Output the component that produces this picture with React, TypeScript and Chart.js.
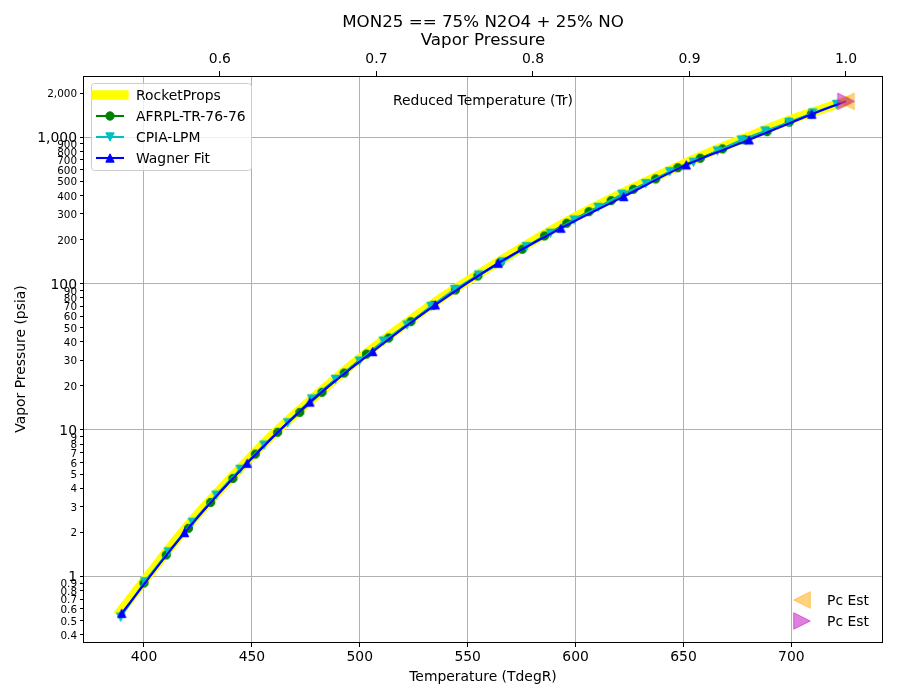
import React, { useEffect, useRef } from 'react';
import { Chart, registerables } from 'chart.js';

Chart.register(...registerables);

const FONT = 'DejaVu Sans';

const TITLE_LINES = ['MON25 == 75% N2O4 + 25% NO', 'Vapor Pressure'];
const X_LABEL = 'Temperature (TdegR)';
const Y_LABEL = 'Vapor Pressure (psia)';
const TR_LABEL = 'Reduced Temperature (Tr)';
const LEGEND_MAIN = ['RocketProps', 'AFRPL-TR-76-76', 'CPIA-LPM', 'Wagner Fit'];
const LEGEND_PC = ['Pc Est', 'Pc Est'];

// critical point (degR, psia)
const TC = 725.3;
const PC = 1760;

const X_MIN = 372.2;
const X_MAX = 742.0;
const Y_MIN = 0.356;
const Y_MAX = 2620;

const X_TICKS = [400, 450, 500, 550, 600, 650, 700];
const TR_TICKS = [0.6, 0.7, 0.8, 0.9, 1.0];
const Y_TICKS = [
  0.4, 0.5, 0.6, 0.7, 0.8, 0.9,
  1, 2, 3, 4, 5, 6, 7, 8, 9,
  10, 20, 30, 40, 50, 60, 70, 80, 90,
  100, 200, 300, 400, 500, 600, 700, 800, 900,
  1000, 2000,
];
const Y_MAJOR = [1, 10, 100, 1000];

// RocketProps curve
const ROCKET_T = [389.0, 400, 420, 440, 460, 480, 500, 520, 540, 560, 580, 600, 620, 640, 660, 680, 700, 720, 725.3];
const ROCKET_P = [0.575, 0.93, 2.2, 4.65, 9.4, 17.4, 30.9, 51.8, 84, 129, 195, 287, 405, 562, 766, 1010, 1325, 1660, 1760];

// AFRPL-TR-76-76
const AFRPL_T = [
  400.0, 410.3, 420.6, 430.9, 441.2, 451.6, 461.9, 472.2, 482.5, 492.8,
  503.1, 513.4, 523.7, 534.0, 544.3, 554.7, 565.0, 575.3, 585.6, 595.9,
  606.2, 616.5, 626.8, 637.1, 647.4, 657.8, 668.1, 678.4, 688.7, 699.0, 709.3,
];
const AFRPL_P = [
  0.90, 1.40, 2.13, 3.20, 4.67, 6.85, 9.64, 13.2, 18.1, 24.5,
  33.0, 42.5, 55.0, 71.0, 90.5, 112.8, 139.4, 171.7, 211.7, 258.5,
  310, 369, 441, 519, 619, 719, 832, 960, 1092, 1267, 1443,
];

// CPIA-LPM
const CPIA_T = [
  389.2, 400.3, 411.3, 422.4, 433.4, 444.5, 455.6, 466.6, 477.7, 488.7,
  499.8, 510.9, 521.9, 533.0, 544.0, 555.1, 566.2, 577.2, 588.3, 599.3,
  610.4, 621.5, 632.5, 643.6, 654.6, 665.7, 676.8, 687.8, 698.9, 709.9, 721.0,
];
const CPIA_P = [
  0.527, 0.918, 1.47, 2.34, 3.59, 5.39, 7.89, 11.2, 16.3, 22.2,
  29.6, 40.5, 52.1, 70.0, 91.4, 114.5, 141, 179, 221, 272,
  332, 408, 482, 582, 675, 806, 958, 1105, 1262, 1466, 1676,
];

// Wagner Fit (markers; last point is the critical point, no marker)
const WAGNER_T = [389.7, 418.8, 447.8, 476.9, 506.0, 535.0, 564.1, 593.2, 622.3, 651.3, 680.4, 709.5, 725.3];
const WAGNER_P = [0.559, 1.99, 5.92, 15.5, 34.3, 71.5, 137.7, 239, 393, 647, 959, 1436, 1760];

const YELLOW = '#ffff00';
const GREEN = '#008000';
const CYAN = '#00bfbf';
const BLUE = '#0000ff';
const ORANGE_A = 'rgba(255,165,0,0.5)';
const MAGENTA_A = 'rgba(191,0,191,0.5)';
const GRID = '#b0b0b0';

const isMajor = (v: number) => Y_MAJOR.some((m) => Math.abs(m - v) < 1e-9);

function shapePath(ctx: CanvasRenderingContext2D, kind: string, x: number, y: number, r: number) {
  ctx.beginPath();
  if (kind === 'circle') {
    ctx.arc(x, y, r, 0, Math.PI * 2);
  } else if (kind === 'up') {
    ctx.moveTo(x, y - r);
    ctx.lineTo(x - r, y + r);
    ctx.lineTo(x + r, y + r);
  } else if (kind === 'down') {
    ctx.moveTo(x, y + r);
    ctx.lineTo(x - r, y - r);
    ctx.lineTo(x + r, y - r);
  } else if (kind === 'left') {
    ctx.moveTo(x - r, y);
    ctx.lineTo(x + r, y - r);
    ctx.lineTo(x + r, y + r);
  } else if (kind === 'right') {
    ctx.moveTo(x + r, y);
    ctx.lineTo(x - r, y - r);
    ctx.lineTo(x - r, y + r);
  }
  ctx.closePath();
}

function drawMarker(ctx: CanvasRenderingContext2D, kind: string, x: number, y: number, r: number, color: string) {
  shapePath(ctx, kind, x, y, r);
  ctx.fillStyle = color;
  ctx.fill();
  ctx.lineWidth = 1;
  ctx.lineJoin = 'miter';
  ctx.strokeStyle = color;
  ctx.stroke();
}

function makeMarker(kind: string, r: number, color: string) {
  const c = document.createElement('canvas');
  const s = Math.ceil(2 * r + 4);
  c.width = s;
  c.height = s;
  const cx = c.getContext('2d')!;
  drawMarker(cx, kind, s / 2, s / 2, r, color);
  return c;
}

function roundRectPath(ctx: CanvasRenderingContext2D, x: number, y: number, w: number, h: number, r: number) {
  ctx.beginPath();
  ctx.moveTo(x + r, y);
  ctx.lineTo(x + w - r, y);
  ctx.arcTo(x + w, y, x + w, y + r, r);
  ctx.lineTo(x + w, y + h - r);
  ctx.arcTo(x + w, y + h, x + w - r, y + h, r);
  ctx.lineTo(x + r, y + h);
  ctx.arcTo(x, y + h, x, y + h - r, r);
  ctx.lineTo(x, y + r);
  ctx.arcTo(x, y, x + r, y, r);
  ctx.closePath();
}

const decorPlugin = {
  id: 'decor',
  afterDatasetsDraw(chart: any) {
    const { ctx, chartArea: a } = chart;
    ctx.save();
    ctx.strokeStyle = '#000';
    ctx.lineWidth = 1;
    ctx.strokeRect(a.left - 0.5, a.top + 0.5, a.right - a.left + 1, a.bottom - a.top);
    ctx.restore();
  },
  afterDraw(chart: any) {
    const { ctx, chartArea: a } = chart;
    const cx = (a.left + a.right) / 2;
    ctx.save();
    ctx.fillStyle = '#000';
    ctx.textAlign = 'center';
    ctx.textBaseline = 'alphabetic';
    ctx.font = `16.7px "${FONT}"`;
    ctx.fillText(TITLE_LINES[0], cx, 27.3);
    ctx.fillText(TITLE_LINES[1], cx, 45);
    ctx.font = `13.9px "${FONT}"`;
    ctx.fillText(TR_LABEL, cx, a.top + 29);

    // main legend
    const lx = a.left + 7.5;
    const ly = a.top + 7.5;
    roundRectPath(ctx, lx, ly, 160, 87, 3);
    ctx.fillStyle = 'rgba(255,255,255,0.8)';
    ctx.fill();
    ctx.strokeStyle = '#cccccc';
    ctx.lineWidth = 1;
    ctx.stroke();

    const hx0 = a.left + 12;
    const hx1 = a.left + 40;
    const hmid = (hx0 + hx1) / 2;
    const rows = [a.top + 19, a.top + 40, a.top + 61, a.top + 82];
    // RocketProps
    ctx.beginPath();
    ctx.moveTo(hx0, rows[0]);
    ctx.lineTo(hx1, rows[0]);
    ctx.strokeStyle = YELLOW;
    ctx.lineWidth = 9.3;
    ctx.lineCap = 'square';
    ctx.stroke();
    ctx.lineCap = 'butt';
    const entries = [
      { color: GREEN, kind: 'circle', r: 4.17 },
      { color: CYAN, kind: 'down', r: 4.17 },
      { color: BLUE, kind: 'up', r: 4.17 },
    ];
    entries.forEach((e, i) => {
      const y = rows[i + 1];
      ctx.beginPath();
      ctx.moveTo(hx0, y);
      ctx.lineTo(hx1, y);
      ctx.strokeStyle = e.color;
      ctx.lineWidth = 2.1;
      ctx.stroke();
      drawMarker(ctx, e.kind, hmid, y, e.r, e.color);
    });
    ctx.fillStyle = '#000';
    ctx.textAlign = 'left';
    ctx.font = `13.9px "${FONT}"`;
    LEGEND_MAIN.forEach((t, i) => ctx.fillText(t, a.left + 52, rows[i] + 5));

    // Pc legend
    const px = a.right - 80;
    const prow = [a.bottom - 42, a.bottom - 21];
    drawMarker(ctx, 'left', px, prow[0], 8.3, ORANGE_A);
    drawMarker(ctx, 'right', px, prow[1], 8.3, MAGENTA_A);
    ctx.fillStyle = '#000';
    LEGEND_PC.forEach((t, i) => ctx.fillText(t, a.right - 55, prow[i] + 5));
    ctx.restore();
  },
};

function pts(xs: number[], ys: number[]) {
  return xs.map((x, i) => ({ x, y: ys[i] }));
}

export default function App() {
  const ref = useRef<HTMLCanvasElement>(null);

  useEffect(() => {
    const canvas = ref.current;
    if (!canvas) return;
    Chart.defaults.font.family = FONT;
    Chart.defaults.font.size = 13.9;
    Chart.defaults.color = '#000';

    const greenCircle = makeMarker('circle', 4.17, GREEN);
    const cyanDown = makeMarker('down', 4.17, CYAN);
    const blueUp = makeMarker('up', 4.17, BLUE);
    const orangeLeft = makeMarker('left', 8.3, ORANGE_A);
    const magentaRight = makeMarker('right', 8.3, MAGENTA_A);

    const chart = new Chart(canvas, {
      type: 'scatter',
      data: {
        datasets: [
          {
            label: 'RocketProps',
            data: pts(ROCKET_T, ROCKET_P),
            showLine: true,
            borderColor: YELLOW,
            backgroundColor: YELLOW,
            borderWidth: 9.3,
            borderCapStyle: 'square',
            borderJoinStyle: 'round',
            cubicInterpolationMode: 'monotone',
            pointRadius: 0,
            order: 6,
          },
          {
            label: 'AFRPL-TR-76-76',
            data: pts(AFRPL_T, AFRPL_P),
            showLine: true,
            borderColor: GREEN,
            backgroundColor: GREEN,
            borderWidth: 2.1,
            pointStyle: greenCircle,
            pointRadius: 4.7,
            order: 5,
          },
          {
            label: 'CPIA-LPM',
            data: pts(CPIA_T, CPIA_P),
            showLine: true,
            borderColor: CYAN,
            backgroundColor: CYAN,
            borderWidth: 2.1,
            pointStyle: cyanDown,
            pointRadius: 4.7,
            order: 4,
          },
          {
            label: 'Wagner Fit',
            data: pts(WAGNER_T, WAGNER_P),
            showLine: true,
            borderColor: BLUE,
            backgroundColor: BLUE,
            borderWidth: 2.1,
            cubicInterpolationMode: 'monotone',
            pointStyle: blueUp,
            pointRadius: WAGNER_T.map((_, i) => (i === WAGNER_T.length - 1 ? 0 : 4.7)),
            order: 3,
          },
          {
            label: 'Pc Est',
            data: [{ x: TC, y: PC }],
            showLine: false,
            pointStyle: orangeLeft,
            pointRadius: 9,
            order: 2,
          },
          {
            label: 'Pc Est',
            data: [{ x: TC, y: PC }],
            showLine: false,
            pointStyle: magentaRight,
            pointRadius: 9,
            order: 1,
          },
        ],
      },
      options: {
        animation: false,
        responsive: false,
        devicePixelRatio: 1,
        events: [],
        layout: { padding: { left: 0, right: 18, top: 0, bottom: 0 } },
        plugins: {
          legend: { display: false },
          tooltip: { enabled: false },
          title: { display: false },
        },
        scales: {
          x: {
            type: 'linear',
            position: 'bottom',
            min: X_MIN,
            max: X_MAX,
            border: { display: false },
            grid: { color: GRID, lineWidth: 1, tickColor: '#000', tickWidth: 1, tickLength: 5 },
            ticks: {
              autoSkip: false,
              maxRotation: 0,
              padding: 1.7,
              font: { family: FONT, size: 13.9 },
              callback: (v: any) => String(v),
            },
            afterBuildTicks: (s: any) => {
              s.ticks = X_TICKS.map((v) => ({ value: v }));
            },
            afterFit: (s: any) => {
              s.height = 58;
            },
            title: {
              display: true,
              text: X_LABEL,
              font: { family: FONT, size: 13.9 },
              padding: { top: 0, bottom: 14.7 },
            },
          },
          x2: {
            type: 'linear',
            position: 'top',
            min: X_MIN,
            max: X_MAX,
            border: { display: false },
            grid: { drawOnChartArea: false, color: GRID, tickColor: '#000', tickWidth: 1, tickLength: 5 },
            ticks: {
              autoSkip: false,
              maxRotation: 0,
              padding: 3.2,
              font: { family: FONT, size: 13.9 },
              callback: (v: any) => (Number(v) / TC).toFixed(1),
            },
            afterBuildTicks: (s: any) => {
              s.ticks = TR_TICKS.map((v) => ({ value: v * TC }));
            },
            afterFit: (s: any) => {
              s.height = 76;
            },
          },
          y: {
            type: 'logarithmic',
            position: 'left',
            min: Y_MIN,
            max: Y_MAX,
            border: { display: false },
            grid: {
              color: (c: any) => (c.tick && isMajor(c.tick.value) ? GRID : 'rgba(0,0,0,0)'),
              lineWidth: 1,
              tickColor: '#000',
              tickWidth: 1,
              tickLength: 4,
            },
            ticks: {
              autoSkip: false,
              padding: 3,
              labelOffset: 1.5,
              font: (c: any) => ({ family: FONT, size: c.tick && isMajor(c.tick.value) ? 13.9 : 10.4 }),
              callback: (v: any) => {
                const n = Number(v);
                return n < 1 ? n.toFixed(1) : n.toLocaleString('en-US');
              },
            },
            afterBuildTicks: (s: any) => {
              s.ticks = Y_TICKS.map((v) => ({ value: v }));
            },
            afterFit: (s: any) => {
              s.width = 84;
            },
            title: {
              display: true,
              text: Y_LABEL,
              font: { family: FONT, size: 13.9 },
              padding: { top: 13.2, bottom: 0 },
            },
          },
        },
      },
      plugins: [decorPlugin],
    } as any);

    return () => chart.destroy();
  }, []);

  return (
    <div style={{ position: 'absolute', left: 0, top: 0, width: 900, height: 700, background: '#fff' }}>
      <canvas ref={ref} width={900} height={700} style={{ display: 'block', width: 900, height: 700 }} />
    </div>
  );
}
